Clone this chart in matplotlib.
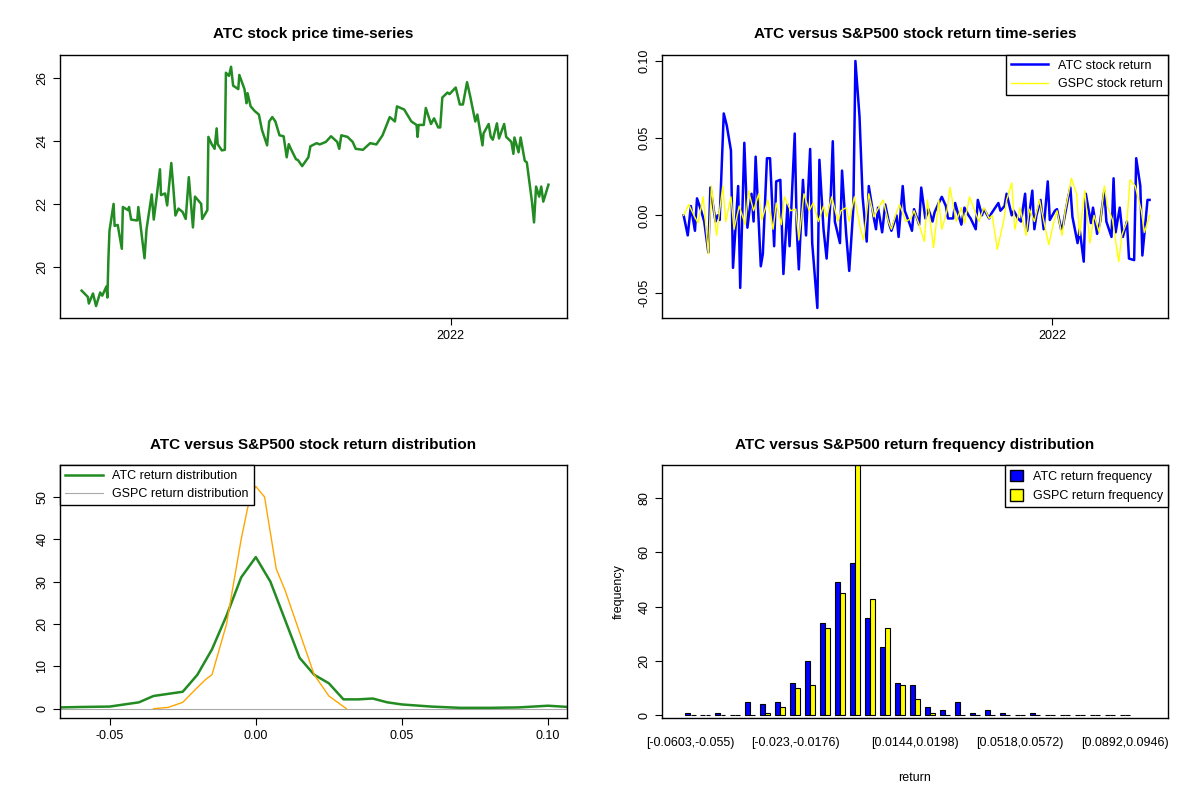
import numpy as np
import pandas as pd
import matplotlib
matplotlib.use('Agg')
import matplotlib.pyplot as plt
from matplotlib.patches import Patch
from matplotlib.lines import Line2D

plt.rcParams['font.family'] = ['Liberation Sans', 'DejaVu Sans']
plt.rcParams['font.size'] = 9

dates = pd.bdate_range('2021-01-08', periods=324)

# ── ATC closing price (trading-day index, price) ──────────────────────────
price_day = [0, 4, 5, 7, 10, 12, 14, 16, 17, 18, 19, 21, 22, 25, 27, 28, 31, 32, 34, 38,
             39, 42, 43, 45, 48, 50, 51, 54, 55, 57, 59, 61, 63, 65, 66, 70, 71, 74, 76, 78,
             82, 83, 86, 87, 90, 91, 93, 94, 96, 99, 100, 101, 103, 105, 108, 109, 112, 114,
             115, 116, 120, 122, 125, 128, 130, 131, 134, 136, 140, 141, 143, 145, 148, 150,
             152, 156, 158, 162, 165, 169, 172, 176, 178, 180, 184, 187, 190, 195, 200, 204,
             208, 213, 216, 218, 223, 228, 231, 232, 233, 236, 238, 241, 244, 246, 248, 250,
             253, 255, 259, 261, 264, 266, 269, 272, 274, 277, 278, 281, 283, 285, 287, 289,
             292, 294, 297, 299, 300, 302, 304, 306, 308, 311, 313, 315, 316, 318, 320, 323]
price = [19.24, 19.04, 18.83, 19.15, 18.75, 19.18, 19.08, 19.37, 19.02, 20.27, 21.14, 22.0,
         21.3, 21.33, 20.57, 21.9, 21.8, 21.9, 21.5, 21.47, 21.9, 20.54, 20.27, 21.2, 22.3,
         21.5, 22.28, 23.1, 22.28, 22.33, 21.95, 23.3, 22.5, 21.63, 21.85, 21.74, 21.52,
         22.85, 21.25, 22.23, 22.0, 21.52, 21.8, 24.13, 23.91, 23.75, 24.4, 23.9, 23.7,
         23.72, 26.17, 26.07, 26.36, 25.76, 25.65, 26.1, 25.65, 25.2, 25.52, 25.1, 24.95,
         24.84, 24.35, 23.86, 24.62, 24.76, 24.62, 24.18, 24.15, 23.48, 23.9, 23.75, 23.42,
         23.39, 23.2, 23.48, 23.83, 23.93, 23.89, 23.97, 24.15, 23.97, 23.75, 24.18, 24.13,
         23.97, 23.75, 23.72, 23.93, 23.89, 24.18, 24.76, 24.62, 25.1, 25.0, 24.62, 24.51,
         24.13, 24.51, 24.51, 25.05, 24.54, 24.72, 24.43, 24.43, 25.38, 25.54, 25.49, 25.7,
         25.16, 25.16, 25.87, 25.43, 24.62, 24.84, 23.86, 24.24, 24.54, 24.13, 24.04, 24.56,
         24.08, 24.54, 24.13, 23.97, 23.59, 24.11, 23.64, 24.11, 23.37, 23.32, 22.07, 21.41,
         22.55, 22.23, 22.55, 22.07, 22.61]

# ── daily returns ─────────────────────────────────────────────────────────
atc_ret = [0, -.013, .006, -.01, .011, .003, -.004, -.024, .018, -.004, 0, -.003, .066, .058,
           .042, -.034, .019, -.047, .047, -.008, .014, -.004, .038, -.033, -.025, .037, .037,
           -.02, .022, .023, -.038, .007, -.02, .053, -.009, -.035, .023, -.013, .043, -.018,
           -.06, .036, -.009, -.028, .012, .048, -.004, -.018, .029, -.012, -.036, .005, .10,
           .064, .012, -.017, .019, -.002, -.009, .005, -.011, .007, -.006, -.01, 0, -.014,
           .019, .003, -.006, -.01, .004, -.006, .018, -.002, .004, -.004, .002, .008, .012,
           .006, -.002, -.002, .008, .003, -.006, .005, 0, -.002, -.009, .01, 0, .004, -.002,
           .001, .003, .008, .003, .006, .014, 0, .003, -.002, -.004, .014, -.01, .016, -.009,
           0, .01, -.009, .022, -.003, .003, .004, -.009, -.006, .012, .018, -.001, -.018,
           -.009, -.03, .014, -.005, .005, -.012, -.004, .016, -.004, -.014, .024, -.011, .005,
           -.014, -.004, -.028, -.029, .037, .019, -.026, .01, .01]
gspc_ret = [0, .007, 0, -.005, .012, -.025, .019, -.013, .019, -.004, .012, -.009, .006, -.006,
            .016, .003, .014, -.003, .01, -.009, .008, -.006, .012, .003, .004, -.016, .014,
            .003, .008, -.004, .006, -.001, .012, -.004, .003, .005, -.004, .012, -.009, -.016,
            .014, -.001, .003, .01, -.004, -.009, .002, .007, -.004, -.002, .003, -.006, -.017,
            .01, -.021, .01, -.009, .003, .018, -.004, .005, -.005, .012, .003, -.004, .005,
            -.002, 0, -.022, -.004, .01, .021, -.009, .005, -.013, .004, -.004, .01, 0, -.019,
            -.004, .003, -.013, .003, .024, .014, -.013, .016, -.018, 0, -.011, .019, .006,
            -.003, -.03, -.013, -.004, .023, .019, .003, -.011, 0]
atc_days = np.linspace(0, 323, len(atc_ret)).round().astype(int)
gspc_days = np.linspace(0, 323, len(gspc_ret)).round().astype(int)

# ── kernel density estimates ──────────────────────────────────────────────
atc_kx = [-.067, -.06, -.05, -.04, -.035, -.03, -.025, -.02, -.015, -.01, -.005, 0, .005, .01,
          .015, .02, .025, .03, .035, .04, .045, .05, .06, .07, .08, .09, .1, .107]
atc_ky = [0.3, 0.4, 0.5, 1.5, 3, 3.5, 4, 8, 14, 22, 31, 35.8, 30, 21, 12, 8, 6, 2.2, 2.2, 2.4,
          1.5, 1, 0.5, 0.2, 0.2, 0.3, 0.7, 0.4]
gspc_kx = [-.035, -.03, -.025, -.02, -.017, -.015, -.01, -.005, -.002, 0, .003, .007, .01, .015,
           .02, .025, .03, .031]
gspc_ky = [0, 0.3, 1.5, 5, 7, 8, 20, 40, 50, 52.5, 50, 33, 28, 18, 8, 3, 0.5, 0]

# ── histogram counts per bin ──────────────────────────────────────────────
atc_cnt = [1, 0, 1, 0, 5, 4, 5, 12, 20, 34, 49, 56, 36, 25, 12, 11, 3, 2, 5, 1, 2, 1, 0, 1,
           0, 0, 0, 0, 0, 0]
gspc_cnt = [0, 0, 0, 0, 0, 1, 3, 10, 11, 32, 45, 110, 43, 32, 11, 6, 1, 0, 0, 0, 0, 0, 0, 0,
            0, 0, 0, 0, 0, 0]
bin_labels = {0: '[-0.0603,-0.055)', 7: '[-0.023,-0.0176)', 15: '[0.0144,0.0198)',
              22: '[0.0518,0.0572)', 29: '[0.0892,0.0946)'}

fig = plt.figure(figsize=(12, 8), dpi=100)
ax1 = fig.add_axes([0.05, 0.6025, 0.4225, 0.329])
ax2 = fig.add_axes([0.5517, 0.6025, 0.4217, 0.329])
ax3 = fig.add_axes([0.05, 0.1025, 0.4225, 0.316])
ax4 = fig.add_axes([0.5517, 0.1025, 0.4217, 0.316])

for ax in (ax1, ax2, ax3, ax4):
    for s in ax.spines.values():
        s.set_linewidth(1.0)
    ax.tick_params(direction='out', length=5, labelsize=9)

ttl = dict(fontsize=11, fontweight='bold', pad=12)
xr = (dates[0] - pd.Timedelta(days=21), dates[-1] + pd.Timedelta(days=18))

# 1. price
ax1.plot(dates[price_day], price, color='#228B22', lw=1.8)
ax1.set_xlim(*xr)
ax1.set_xticks([pd.Timestamp('2022-01-01')])
ax1.set_xticklabels(['2022'])
ax1.set_yticks([20, 22, 24, 26])
ax1.set_title('ATC stock price time-series', **ttl)

# 2. returns
ax2.plot(dates[atc_days], atc_ret, color='blue', lw=1.8, label='ATC stock return')
ax2.plot(dates[gspc_days], gspc_ret, color='yellow', lw=1.0, label='GSPC stock return')
ax2.set_xlim(*xr)
ax2.set_ylim(-0.0665, 0.104)
ax2.set_xticks([pd.Timestamp('2022-01-01')])
ax2.set_xticklabels(['2022'])
ax2.set_yticks([-0.05, 0, 0.05, 0.10])
ax2.set_yticklabels(['-0.05', '0.00', '0.05', '0.10'])
ax2.legend(loc='upper right', fancybox=False, edgecolor='black', framealpha=1,
           borderaxespad=0, fontsize=9, handlelength=3)
ax2.set_title('ATC versus S&P500 stock return time-series', **ttl)

# 3. densities
ax3.axhline(0, color='#aaaaaa', lw=0.8)
ax3.plot(atc_kx, atc_ky, color='#228B22', lw=1.8)
ax3.plot(gspc_kx, gspc_ky, color='orange', lw=1.0)
ax3.set_xlim(-0.067, 0.1065)
ax3.set_ylim(-2.2, 57.5)
ax3.set_xticks([-0.05, 0, 0.05, 0.10])
ax3.set_xticklabels(['-0.05', '0.00', '0.05', '0.10'])
ax3.set_yticks([0, 10, 20, 30, 40, 50])
ax3.legend(handles=[Line2D([], [], color='#228B22', lw=1.8, label='ATC return distribution'),
                    Line2D([], [], color='#aaaaaa', lw=0.8, label='GSPC return distribution')],
           loc='upper left', fancybox=False, edgecolor='black', framealpha=1,
           borderaxespad=0, fontsize=9, handlelength=3)
ax3.set_title('ATC versus S&P500 stock return distribution', **ttl)

# 4. frequency histogram
g = np.arange(len(atc_cnt))
ax4.bar(g - 0.17, atc_cnt, width=0.33, color='blue', edgecolor='black', lw=0.8)
ax4.bar(g + 0.17, gspc_cnt, width=0.33, color='yellow', edgecolor='black', lw=0.8)
ax4.set_xlim(-1.9, 31.9)
ax4.set_ylim(-1, 92.1)
ax4.set_yticks([0, 20, 40, 60, 80])
ax4.set_xticks(list(bin_labels.keys()))
ax4.set_xticklabels(list(bin_labels.values()))
ax4.tick_params(axis='x', length=0, pad=14)
ax4.set_xlabel('return', labelpad=16)
ax4.set_ylabel('frequency', labelpad=10)
ax4.legend(handles=[Patch(facecolor='blue', edgecolor='black', label='ATC return frequency'),
                    Patch(facecolor='yellow', edgecolor='black', label='GSPC return frequency')],
           loc='upper right', fancybox=False, edgecolor='black', framealpha=1,
           borderaxespad=0, fontsize=9, handlelength=1, handleheight=1)
ax4.set_title('ATC versus S&P500 return frequency distribution', **ttl)

for ax in (ax1, ax2, ax3, ax4):
    for lab in ax.get_yticklabels():
        lab.set_rotation(90)
        lab.set_va('center')

fig.savefig('out.png', dpi=100)
